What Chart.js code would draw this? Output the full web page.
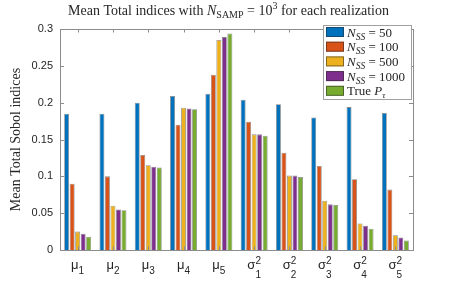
<!DOCTYPE html>
<html>
<head>
<meta charset="utf-8">
<script src="https://cdn.jsdelivr.net/npm/chart.js@4.4.1/dist/chart.umd.min.js"></script>
<style>
  html, body { margin: 0; padding: 0; background: #fff; }
  #wrap { width: 457px; height: 282px; }
</style>
</head>
<body>
<div id="wrap"><canvas id="myChart-sobol"></canvas></div>
<script>
// categories: [symbol, superscript, subscript]
const categories = [
    ['\u03bc', '', '1'], ['\u03bc', '', '2'], ['\u03bc', '', '3'], ['\u03bc', '', '4'], ['\u03bc', '', '5'],
    ['\u03c3', '2', '1'], ['\u03c3', '2', '2'], ['\u03c3', '2', '3'], ['\u03c3', '2', '4'], ['\u03c3', '2', '5']
];
const seriesNames = ['50', '100', '500', '1000', 'true'];
const nss50   = [0.185, 0.185, 0.200, 0.209, 0.212, 0.204, 0.198, 0.180, 0.194, 0.186];
const nss100  = [0.090, 0.100, 0.129, 0.170, 0.238, 0.174, 0.132, 0.114, 0.096, 0.082];
const nss500  = [0.025, 0.060, 0.115, 0.193, 0.285, 0.157, 0.101, 0.067, 0.036, 0.020];
const nss1000 = [0.022, 0.055, 0.113, 0.192, 0.289, 0.157, 0.101, 0.062, 0.033, 0.017];
const truePt  = [0.018, 0.054, 0.112, 0.191, 0.294, 0.155, 0.099, 0.061, 0.029, 0.013];
const yTicks = [0, 0.05, 0.1, 0.15, 0.2, 0.25, 0.3];

const colors = ['#0072BD', '#D95319', '#EDB120', '#7E2F8E', '#77AC30'];
const values = [nss50, nss100, nss500, nss1000, truePt];

const SERIF = '"Liberation Serif", "DejaVu Serif", serif';
const SANS = '"Liberation Sans", Arial, sans-serif';
const TXT = '#262626';

// draw a list of text pieces {t, font, dy} one after another
function drawRich(ctx, parts, x, y, align) {
    let w = 0;
    parts.forEach(p => { ctx.font = p.font; w += ctx.measureText(p.t).width; });
    let cx = align === 'center' ? x - w / 2 : x;
    ctx.textAlign = 'left';
    ctx.textBaseline = 'alphabetic';
    parts.forEach(p => {
        ctx.font = p.font;
        ctx.fillText(p.t, cx, y + (p.dy || 0));
        cx += ctx.measureText(p.t).width;
    });
}

const decorations = {
    id: 'decorations',
    afterDatasetsDraw(chart) {
        const ctx = chart.ctx;
        const a = chart.chartArea;
        const xs = chart.scales.x, ys = chart.scales.y;
        ctx.save();
        // axes box
        ctx.strokeStyle = '#8c8c8c';
        ctx.lineWidth = 1;
        ctx.strokeRect(Math.round(a.left) + 0.5, Math.round(a.top) + 0.5,
            Math.round(a.right - a.left), Math.round(a.bottom - a.top));
        ctx.beginPath();
        yTicks.forEach(v => {
            const y = Math.round(ys.getPixelForValue(v)) + 0.5;
            ctx.moveTo(a.left, y); ctx.lineTo(a.left + 4, y);
            ctx.moveTo(a.right, y); ctx.lineTo(a.right - 4, y);
        });
        categories.forEach((c, i) => {
            const x = Math.round(xs.getPixelForTick(i)) + 0.5;
            ctx.moveTo(x, a.bottom); ctx.lineTo(x, a.bottom - 3.5);
            ctx.moveTo(x, a.top); ctx.lineTo(x, a.top + 3.5);
        });
        ctx.stroke();

        // x tick labels with sub/superscripts
        ctx.fillStyle = TXT;
        categories.forEach((c, i) => {
            const x = xs.getPixelForTick(i);
            ctx.font = '13px ' + SANS;
            const w1 = ctx.measureText(c[0]).width;
            ctx.font = '10px ' + SANS;
            const w2 = ctx.measureText(c[2]).width;
            const x0 = x - (w1 + w2) / 2;
            ctx.textAlign = 'left';
            ctx.font = '13px ' + SANS;
            ctx.fillText(c[0], x0, 269);
            ctx.font = '10px ' + SANS;
            if (c[1]) {
                ctx.fillText(c[1], x0 + w1, 264);
                ctx.fillText(c[2], x0 + w1, 278);
            } else {
                ctx.fillText(c[2], x0 + w1, 274);
            }
        });
        ctx.restore();
    },
    afterDraw(chart) {
        const ctx = chart.ctx;
        ctx.save();
        ctx.fillStyle = TXT;
        // title
        drawRich(ctx, [
            {t: 'Mean Total indices with ', font: '14px ' + SERIF},
            {t: 'N', font: 'italic 14px ' + SERIF},
            {t: 'SAMP', font: '10px ' + SERIF, dy: 3},
            {t: ' = 10', font: '14px ' + SERIF},
            {t: '3', font: '10px ' + SERIF, dy: -6},
            {t: ' for each realization', font: '14px ' + SERIF}
        ], 228.5, 15, 'center');

        // y axis title
        ctx.save();
        ctx.translate(16, 139.5);
        ctx.rotate(-Math.PI / 2);
        ctx.font = '14px ' + SERIF;
        ctx.textAlign = 'center';
        ctx.textBaseline = 'middle';
        ctx.fillText('Mean Total Sobol indices', 0, 0);
        ctx.restore();

        // legend
        const lx = 323, ly = 25, lw = 88, lh = 74;
        ctx.fillStyle = '#fff';
        ctx.fillRect(lx, ly, lw, lh);
        ctx.strokeStyle = '#a0a0a0';
        ctx.lineWidth = 1;
        ctx.strokeRect(lx + 0.5, ly + 0.5, lw, lh);
        chart.data.datasets.forEach((ds, i) => {
            const cy = 32 + i * 14.7;
            ctx.fillStyle = ds.backgroundColor;
            ctx.fillRect(326, cy - 5, 18, 10);
            ctx.strokeStyle = 'rgba(40,40,40,0.55)';
            ctx.strokeRect(326.5, cy - 4.5, 17, 9);
            ctx.fillStyle = TXT;
            if (seriesNames[i] === 'true') {
                drawRich(ctx, [
                    {t: 'True ', font: '13px ' + SERIF},
                    {t: 'P', font: 'italic 13px ' + SERIF},
                    {t: '\u03c4', font: 'italic 9px ' + SERIF, dy: 3}
                ], 347, cy + 4.5, 'left');
            } else {
                drawRich(ctx, [
                    {t: 'N', font: 'italic 13px ' + SERIF},
                    {t: 'SS', font: 'italic 9.5px ' + SERIF, dy: 3},
                    {t: ' = ' + seriesNames[i], font: '13px ' + SERIF}
                ], 347, cy + 4.5, 'left');
            }
        });
        ctx.restore();
    }
};

const ctx1 = document.getElementById('myChart-sobol').getContext('2d');
const myChart1 = new Chart(ctx1, {
    type: 'bar',
    data: {
        labels: categories.map(c => c[0] + c[1] + c[2]),
        datasets: values.map((v, i) => ({
            label: seriesNames[i],
            data: v,
            backgroundColor: colors[i],
            borderColor: 'rgba(40,40,40,0.55)',
            borderWidth: 0.8,
            barPercentage: 0.9,
            categoryPercentage: 0.78
        }))
    },
    options: {
        responsive: true,
        maintainAspectRatio: false,
        animation: false,
        devicePixelRatio: 1,
        layout: { padding: { top: 29, right: 44, left: 0, bottom: 0 } },
        plugins: {
            legend: { display: false },
            title: { display: false },
            tooltip: { enabled: false }
        },
        scales: {
            x: {
                grid: { display: false },
                border: { display: false },
                ticks: { display: false },
                afterFit: s => { s.height = 32; }
            },
            y: {
                min: 0,
                max: 0.3,
                grid: { display: false, drawTicks: false },
                border: { display: false },
                afterFit: s => { s.width = 60; },
                afterBuildTicks: s => { s.ticks = yTicks.map(v => ({ value: v })); },
                ticks: {
                    padding: 7,
                    color: TXT,
                    font: { family: SANS, size: 11 },
                    callback: v => String(+v.toFixed(2))
                }
            }
        }
    },
    plugins: [decorations]
});
</script>
</body>
</html>
